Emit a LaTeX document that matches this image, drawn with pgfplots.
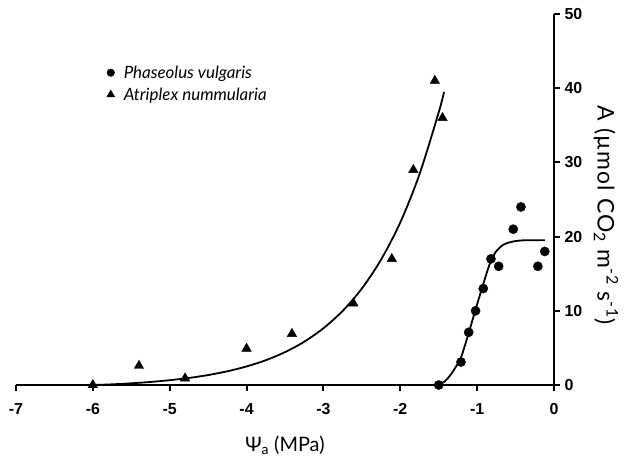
\documentclass[border=0pt]{standalone}
\usepackage{fontspec}
\setmainfont{Lato}
\newfontfamily\tickfont{Liberation Sans}
\usepackage{pgfplots}
\pgfplotsset{compat=1.18}

% Atriplex nummularia (triangles) and Phaseolus vulgaris (circles)
\pgfplotstableread{
x y
-6.00 0.0
-5.40 2.6
-4.80 0.9
-4.00 4.9
-3.41 6.9
-2.61 11.0
-2.11 17.0
-1.83 29.0
-1.55 41.0
-1.45 36.0
}\atriplex
\pgfplotstableread{
x y
-1.50 0.0
-1.21 3.1
-1.11 7.1
-1.02 10.0
-0.92 13.0
-0.82 17.0
-0.72 16.0
-0.53 21.0
-0.43 24.0
-0.21 16.0
-0.12 18.0
}\phaseolus

\begin{document}
\begin{tikzpicture}
\begin{axis}[
  x=76.86bp, y=7.42bp,
  xmin=-7, xmax=0, ymin=0, ymax=50,
  axis x line=bottom, axis y line=right,
  axis line style={-, line width=2bp},
  tick align=outside, major tick length=6bp,
  every tick/.style={black, line width=2bp},
  xtick={-7,-6,...,0}, xticklabels={-7,-6,-5,-4,-3,-2,-1,0},
  ytick={0,10,...,50}, yticklabels={0,10,20,30,40,50},
  tick label style={font=\tickfont\bfseries\fontsize{16}{18}\selectfont},
  xticklabel style={yshift=-9bp},
  yticklabel style={xshift=1bp},
  xlabel={Ψ\textsubscript{a} (MPa)},
  every axis x label/.style={at={(axis cs:-3.5,0)}, anchor=center, yshift=-60bp,
    font=\fontsize{20}{24}\selectfont},
  ylabel={A (µmol CO\textsubscript{2} m\textsuperscript{-2} s\textsuperscript{-1})},
  every axis y label/.style={at={(axis cs:0,22.9)}, anchor=center, xshift=52bp, rotate=-90,
    font=\addfontfeatures{LetterSpace=5}\fontsize{23}{27}\selectfont},
  clip=false,
  legend style={at={(axis cs:-5.86,43.6)}, anchor=north west, draw=none, fill=none,
    font=\itshape\fontsize{17}{20}\selectfont, row sep=4bp,
    /tikz/every odd column/.append style={column sep=7bp}},
  legend cell align=left,
]
\addplot[only marks, mark=*, mark size=4.6bp, black,
  legend image post style={mark size=3.8bp}] table {\phaseolus};
\addlegendentry{Phaseolus vulgaris}
\addplot[only marks, mark=triangle*, mark size=5.5bp, black,
  legend image post style={mark size=4.6bp}] table {\atriplex};
\addlegendentry{Atriplex nummularia}
% fitted curves
\addplot[forget plot, smooth, line width=1.8bp, black] coordinates {
(-6,0) (-5.75,0.09) (-5.5,0.23) (-5.25,0.41) (-5,0.65) (-4.75,0.95) (-4.5,1.34)
(-4.25,1.85) (-4,2.5) (-3.75,3.34) (-3.5,4.43) (-3.25,5.83) (-3,7.65)
(-2.75,9.98) (-2.5,13.0) (-2.25,16.9) (-2,21.9) (-1.75,28.4) (-1.5,36.75) (-1.43,39.5)};
\addplot[forget plot, smooth, tension=0.5, line width=1.8bp, black] coordinates {
(-1.5,0) (-1.42,0.5) (-1.35,1.3) (-1.28,2.4) (-1.21,3.7) (-1.11,7.0) (-1.02,10.2)
(-0.92,13.6) (-0.84,16.2) (-0.76,17.9) (-0.66,18.9) (-0.55,19.3) (-0.4,19.5) (-0.12,19.5)};
\coordinate (bbsw) at (axis cs:-7.208,-10.11);
\coordinate (bbne) at (axis cs:0.911,51.89);
\end{axis}
\pgfresetboundingbox
\path (bbsw) rectangle (bbne);
\end{tikzpicture}
\end{document}
